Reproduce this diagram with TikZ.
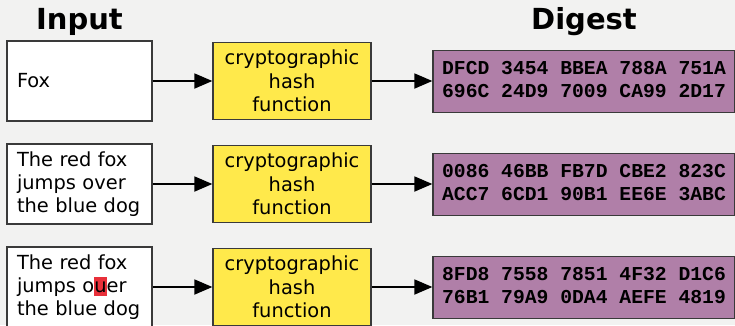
\documentclass[tikz,border=0pt]{standalone}
\usepackage{fontspec}
\setmainfont{DejaVu Sans}
\newfontfamily\digestfont{Liberation Mono}
\usetikzlibrary{arrows.meta}
\definecolor{bg}{HTML}{F2F2F1}
\definecolor{hashyellow}{HTML}{FFE94B}
\definecolor{digestpurple}{HTML}{B07FA8}
\definecolor{boxline}{HTML}{3A3A3A}
\definecolor{hlred}{HTML}{E8303A}
% two centred rows of hex digits, one baselineskip apart
\newcommand{\hexrows}[2]{\begin{tabular}{@{}c@{}}#1\\#2\end{tabular}}
\begin{document}
\begin{tikzpicture}[x=1pt,y=-1pt,
  title/.style={font=\fontsize{29}{34}\selectfont\bfseries, anchor=base, inner sep=0pt},
  inbox/.style={draw=boxline, line width=1.3pt, fill=white, minimum width=145pt,
    minimum height=80pt, inner xsep=10pt, inner ysep=0pt, text width=125pt, align=left,
    font=\fontsize{19.4}{23.3}\selectfont},
  hashbox/.style={draw=boxline, line width=1.3pt, fill=hashyellow, minimum width=158pt,
    minimum height=77pt, inner sep=0pt, align=center,
    font=\fontsize{19.4}{23.3}\selectfont},
  digestbox/.style={draw=boxline, line width=1.3pt, fill=digestpurple, minimum width=302pt,
    minimum height=62pt, inner sep=0pt,
    font=\digestfont\bfseries\fontsize{19.7}{22.5}\selectfont},
  flow/.style={line width=1.8pt, -{Triangle[length=18pt,width=15pt]}}]
  \fill[bg] (0,0) rectangle (735,325);
  \useasboundingbox (0,0) rectangle (735,325);

  \node[title] (tin) at (79.5,29) {Input};
  \node[title] (tdg) at (584,29) {Digest};

  % first message
  \node[inbox] (in1) at (79.5,81) {Fox};
  \node[hashbox] (h1) at (292,81) {cryptographic\\hash\\function};
  \node[digestbox] (d1) at (584,81.5) {\hexrows{DFCD 3454 BBEA 788A 751A}{696C 24D9 7009 CA99 2D17}};

  % second message
  \node[inbox] (in2) at (79.5,184) {The red fox\\jumps over\\the blue dog};
  \node[hashbox] (h2) at (292,184) {cryptographic\\hash\\function};
  \node[digestbox] (d2) at (584,184.5) {\hexrows{0086 46BB FB7D CBE2 823C}{ACC7 6CD1 90B1 EE6E 3ABC}};

  % third message, one letter changed
  \node[inbox] (in3) at (79.5,287) {The red fox\\jumps o{\setlength{\fboxsep}{0pt}\colorbox{hlred}{\rule[-4pt]{0pt}{19pt}u}}er\\the blue dog};
  \node[hashbox] (h3) at (292,287) {cryptographic\\hash\\function};
  \node[digestbox] (d3) at (584,287.5) {\hexrows{8FD8 7558 7851 4F32 D1C6}{76B1 79A9 0DA4 AEFE 4819}};

  \foreach \i in {1,2,3} {
    \draw[flow] (in\i.east) -- (in\i.east -| h\i.west);
    \draw[flow] (h\i.east) -- (h\i.east -| d\i.west);
  }
\end{tikzpicture}
\end{document}
